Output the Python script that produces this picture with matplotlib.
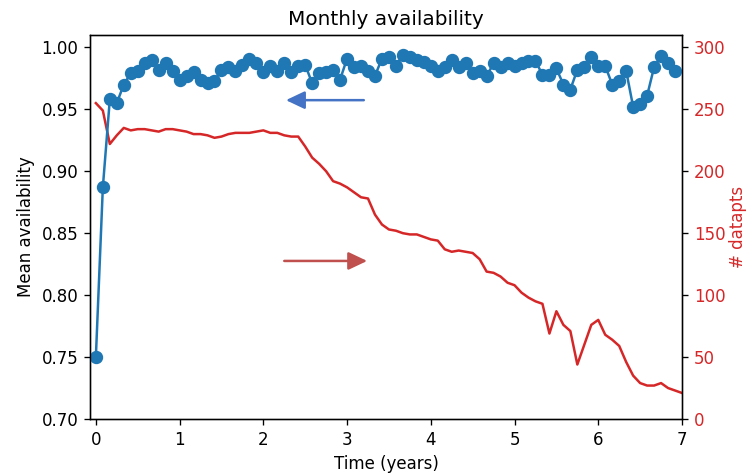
import numpy as np
import matplotlib
matplotlib.use("Agg")
from matplotlib import pyplot as plt

# mean availability per month (first 7 years)
avail = [0.750, 0.887, 0.958, 0.955, 0.970, 0.979, 0.981, 0.987, 0.990, 0.982,
         0.987, 0.981, 0.974, 0.977, 0.980, 0.974, 0.971, 0.973, 0.982, 0.984,
         0.981, 0.986, 0.991, 0.987, 0.980, 0.985, 0.981, 0.987, 0.980, 0.985,
         0.986, 0.971, 0.979, 0.980, 0.982, 0.974, 0.991, 0.984, 0.985, 0.981,
         0.977, 0.991, 0.992, 0.985, 0.994, 0.992, 0.990, 0.988, 0.985, 0.981,
         0.984, 0.990, 0.984, 0.987, 0.979, 0.981, 0.977, 0.987, 0.984, 0.987,
         0.985, 0.987, 0.989, 0.989, 0.978, 0.978, 0.983, 0.970, 0.966, 0.982,
         0.984, 0.992, 0.985, 0.985, 0.970, 0.973, 0.981, 0.952, 0.954, 0.961,
         0.984, 0.993, 0.987, 0.981]

# number of data points behind each monthly mean
datapts = [255, 249, 222, 229, 235, 233, 234, 234, 233, 232,
           234, 234, 233, 232, 230, 230, 229, 227, 228, 230,
           231, 231, 231, 232, 233, 231, 231, 229, 228, 228,
           220, 211, 206, 200, 192, 190, 187, 183, 179, 178,
           165, 157, 153, 152, 150, 149, 149, 147, 145, 144,
           137, 135, 136, 135, 134, 129, 119, 118, 115, 110,
           108, 102, 98, 95, 93, 69, 87, 76, 71, 44,
           60, 76, 80, 68, 64, 59, 46, 35, 29, 27,
           27, 29, 25, 23, 21]

t_avail = np.arange(len(avail)) / 12
t_pts = np.arange(len(datapts)) / 12

fig, ax = plt.subplots(figsize=(747 / 120, 475 / 120), dpi=120)
fig.subplots_adjust(left=90 / 747, right=682 / 747, top=1 - 35 / 475, bottom=1 - 419 / 475)

ax2 = ax.twinx()
ax2.plot(t_pts, datapts, color="tab:red")
ax2.set_ylim(0, 310)
ax2.set_ylabel("# datapts", color="tab:red", labelpad=2)
ax2.tick_params(axis="y", labelcolor="tab:red")

ax.plot(t_avail, avail, "o-", color="tab:blue", markersize=7)
ax.set_xlim(-0.07, 7)
ax.set_ylim(0.70, 1.01)
ax.set_xlabel("Time (years)")
ax.set_ylabel("Mean availability")
ax.set_title("Monthly availability")

# keep the availability curve above the counts
ax.set_zorder(ax2.get_zorder() + 1)
ax.patch.set_visible(False)

# arrows pointing each curve to its axis
ax.annotate("", xy=(2.27, 0.9574), xytext=(3.20, 0.9574),
            arrowprops=dict(arrowstyle="-|>,head_width=0.45,head_length=0.95",
                            color="#4472C4", lw=1.5, shrinkA=0, shrinkB=0))
ax.annotate("", xy=(3.24, 0.8276), xytext=(2.25, 0.8276),
            arrowprops=dict(arrowstyle="-|>,head_width=0.45,head_length=0.95",
                            color="#C0504D", lw=1.5, shrinkA=0, shrinkB=0))

fig.savefig("out.png", dpi=120)
